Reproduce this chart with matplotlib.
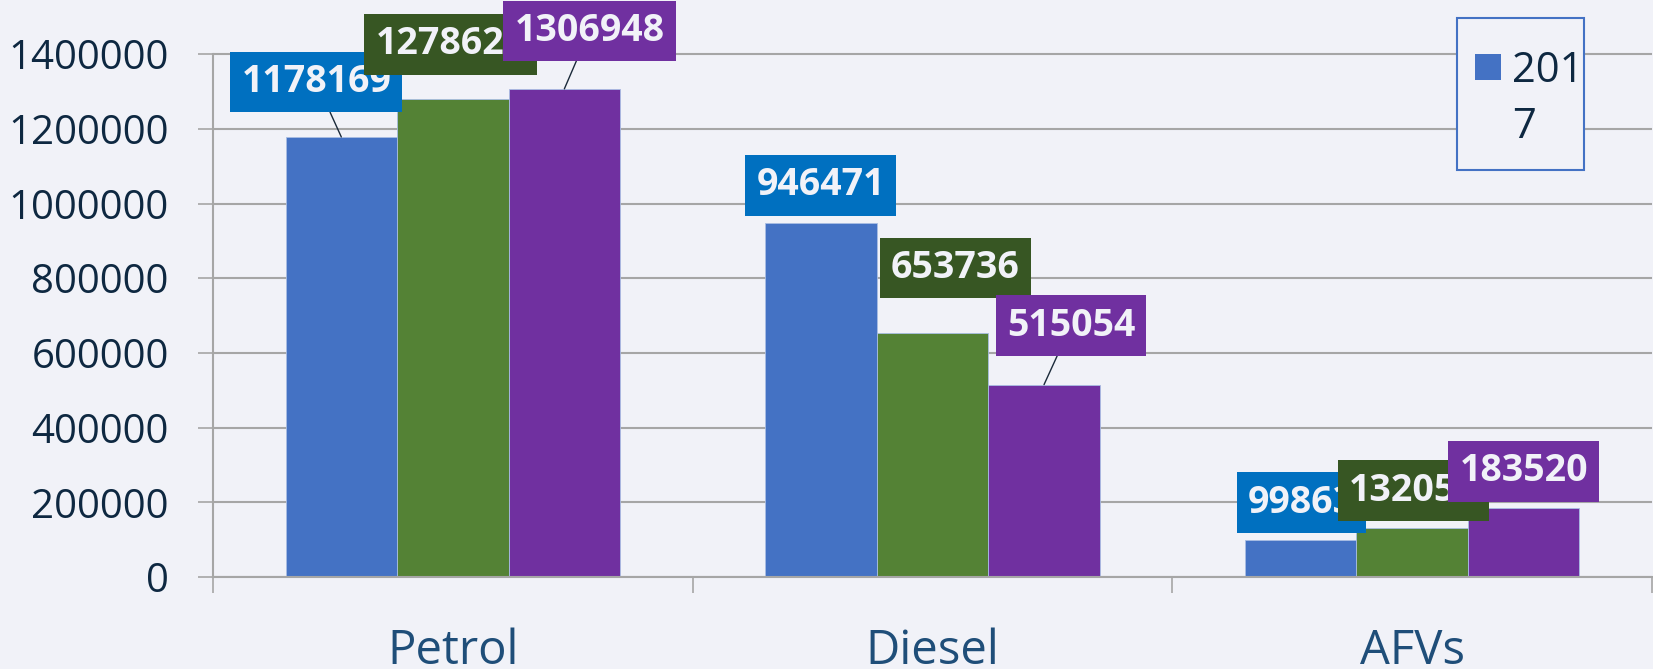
import matplotlib
matplotlib.use("Agg")
import matplotlib.pyplot as plt
import numpy as np
from matplotlib.patches import Rectangle

# --- data ---
categories = ["Petrol", "Diesel", "AFVs"]
series_1 = [1178169, 946471, 99863]
series_2 = [1278620, 653736, 132056]
series_3 = [1306948, 515054, 183520]
legend_name = "2017"
y_ticks = [0, 200000, 400000, 600000, 800000, 1000000, 1200000, 1400000]

bar_colors = ["#4472C4", "#548235", "#7030A0"]
box_colors = ["#0070C0", "#375623", "#7030A0"]

# label box offsets from bar top (pixels), and whether a leader line is drawn
label_offsets = [
    [(-25, 55), (0, 38), (1, 37)],
    [(-2, 55), (23, 65), (1, 37)],
    [(25, 58), (27, 59), (0, 37)],
]
leaders = [
    [True, False, False],
    [False, False, False],
    [True, True, False],
]

BG = "#F1F2F8"
W, H = 1653, 669
plt.rcParams["font.family"] = ["Open Sans", "DejaVu Sans"]

fig = plt.figure(figsize=(W / 100, H / 100), dpi=100, facecolor=BG)
ax = fig.add_axes([213 / W, (H - 577) / H, (1652 - 213) / W, 577 / H])
ax.set_facecolor(BG)

x = np.arange(len(categories))
bw = 0.2325
all_series = [series_1, series_2, series_3]
for j, vals in enumerate(all_series):
    ax.bar(x + (j - 1) * bw, vals, width=bw, color=bar_colors[j],
           edgecolor="#A9BEE3", linewidth=0.6, zorder=2)

ax.set_xlim(-0.5, len(categories) - 0.5)
ax.set_ylim(0, 577 / 74.7 * 200000)
ax.set_yticks(y_ticks)
ax.set_yticklabels([str(v) for v in y_ticks])
ax.grid(True, axis="y", color="#A6A6A6", linewidth=1.5, zorder=0)
ax.set_axisbelow(True)

for s in ["top", "right"]:
    ax.spines[s].set_visible(False)
ax.spines["left"].set_color("#A6A6A6")
ax.spines["bottom"].set_color("#A6A6A6")
ax.spines["left"].set_linewidth(1.5)
ax.spines["bottom"].set_linewidth(1.5)
ax.spines["left"].set_bounds(0, y_ticks[-1])

ax.tick_params(axis="y", length=10.8, width=1.2, color="#A6A6A6", pad=21,
               labelsize=29, labelcolor="#0E2841")
ax.set_xticks(x)
ax.set_xticklabels(categories)
ax.tick_params(axis="x", which="major", length=0, pad=36,
               labelsize=34, labelcolor="#1F4E79")
ax.set_xticks(np.arange(len(categories) + 1) - 0.5, minor=True)
ax.tick_params(axis="x", which="minor", length=11.5, width=1.2, color="#A6A6A6")

# data labels
z = 5
for j, vals in enumerate(all_series):
    for i, v in enumerate(vals):
        dx, dy = label_offsets[j][i]
        kw = {}
        if leaders[j][i]:
            kw["arrowprops"] = dict(arrowstyle="-", color="#1B2A3A", lw=1,
                                    shrinkA=0, shrinkB=0)
        ax.annotate(str(v), xy=(x[i] + (j - 1) * bw, v),
                    xytext=(dx * 0.72, dy * 0.72), textcoords="offset points",
                    ha="center", va="center", fontsize=27, fontweight="bold",
                    color="#F1F2F8", annotation_clip=False, zorder=z,
                    bbox=dict(boxstyle="square,pad=0.3", fc=box_colors[j],
                              ec="none"), **kw)
        z += 1

# legend box (only the first series is listed, name wrapped)
fig.patches.append(Rectangle((1457 / W, 1 - 170 / H), 127 / W, 152 / H,
                             transform=fig.transFigure, fc=BG, ec="#4472C4",
                             lw=1.5, zorder=10))
fig.patches.append(Rectangle((1475 / W, 1 - 80 / H), 26 / W, 26 / H,
                             transform=fig.transFigure, fc=bar_colors[0],
                             ec="none", zorder=11))
fig.text(1512 / W, 1 - 82 / H, legend_name[:3], fontsize=30, color="#0E2841",
         va="baseline", ha="left", zorder=12)
fig.text(1512 / W, 1 - 138 / H, legend_name[3:], fontsize=30, color="#0E2841",
         va="baseline", ha="left", zorder=12)

fig.savefig("out.png", dpi=100, facecolor=BG)
